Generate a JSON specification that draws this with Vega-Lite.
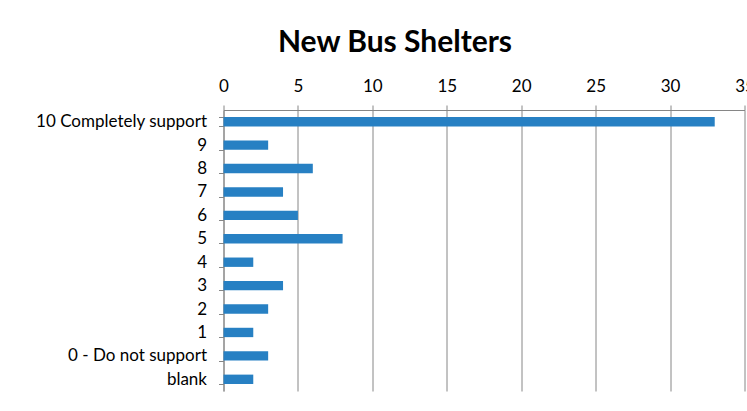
{
  "$schema": "https://vega.github.io/schema/vega-lite/v6.json",
  "width": 521,
  "height": 281,
  "autosize": "none",
  "padding": {"left": 223.5, "top": 110, "right": 2.5, "bottom": 20},
  "background": "white",
  "title": {
    "text": "New Bus Shelters",
    "font": "Lato",
    "fontSize": 30,
    "fontWeight": "bold",
    "color": "#000000",
    "anchor": "middle",
    "frame": "group",
    "dx": -89,
    "offset": 19
  },
  "data": {
    "values": [
      {"response": "10 Completely support", "count": 33},
      {"response": "9", "count": 3},
      {"response": "8", "count": 6},
      {"response": "7", "count": 4},
      {"response": "6", "count": 5},
      {"response": "5", "count": 8},
      {"response": "4", "count": 2},
      {"response": "3", "count": 4},
      {"response": "2", "count": 3},
      {"response": "1", "count": 2},
      {"response": "0 - Do not support", "count": 3},
      {"response": "blank", "count": 2}
    ]
  },
  "mark": {"type": "bar", "color": "#2780C3"},
  "encoding": {
    "y": {
      "field": "response",
      "type": "nominal",
      "sort": null,
      "scale": {"paddingInner": 0.6, "paddingOuter": 0.3},
      "axis": {
        "title": null,
        "labelFont": "Lato",
        "labelFontSize": 17,
        "labelColor": "#000000",
        "labelPadding": 12,
        "tickBand": "extent",
        "tickSize": 5,
        "tickColor": "#868686",
        "domainColor": "#868686",
        "grid": false
      }
    },
    "x": {
      "field": "count",
      "type": "quantitative",
      "scale": {"domain": [0, 35], "nice": false},
      "axis": {
        "orient": "top",
        "title": null,
        "values": [0, 5, 10, 15, 20, 25, 30, 35],
        "labelFont": "Lato",
        "labelFontSize": 17,
        "labelColor": "#000000",
        "labelPadding": 10,
        "labelFlush": false,
        "labelOverlap": false,
        "tickSize": 5,
        "tickColor": "#868686",
        "domainColor": "#868686",
        "gridColor": "#868686",
        "gridOpacity": 1,
        "grid": true
      }
    }
  },
  "config": {"view": {"stroke": null}}
}
